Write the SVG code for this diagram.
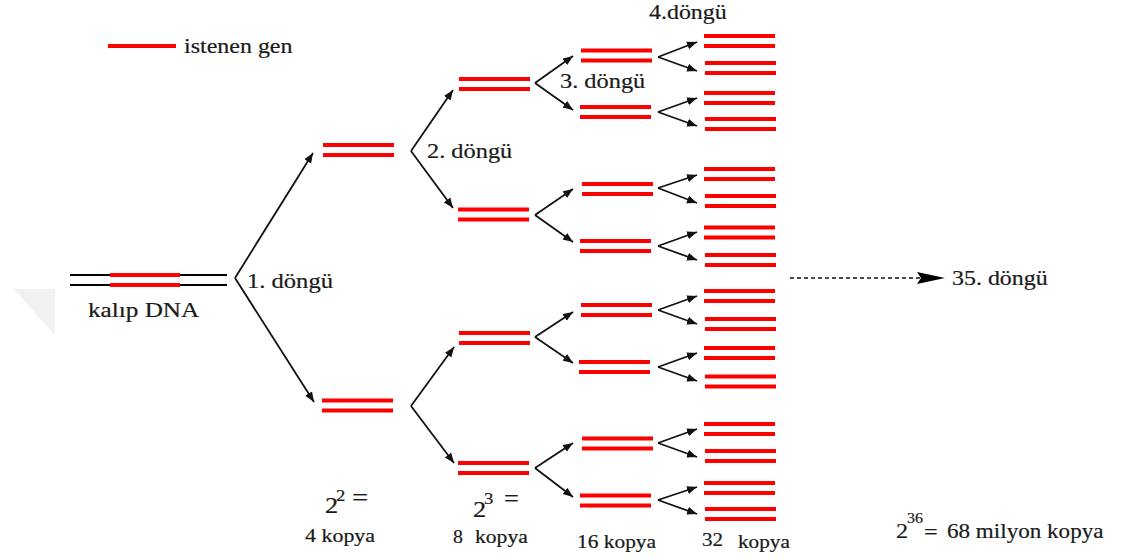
<svg xmlns="http://www.w3.org/2000/svg" width="1129" height="560" viewBox="0 0 1129 560">
<style>
.g{stroke:#ff0000;stroke-width:4;fill:none}
.dna{stroke:#000;stroke-width:2;fill:none}
.ar{stroke:#111;stroke-width:1.8;fill:none;marker-end:url(#ah)}
.tx{stroke:#1a1a1a;stroke-width:0.2}
</style>
<defs>
<marker id="ah" markerUnits="userSpaceOnUse" markerWidth="11" markerHeight="9" refX="10" refY="4.5" orient="auto">
<path d="M0,0.5 L10,4.5 L0,8.5 z" fill="#111"/>
</marker>
<g id="pr"><line class="g" x1="0" y1="-5" x2="71" y2="-5"/><line class="g" x1="0" y1="5" x2="71" y2="5"/></g>
</defs>
<rect width="1129" height="560" fill="#fff"/>
<polygon points="14,289 55,289 55,336" fill="#f2f2f2"/>

<g id="legend" font-family="Liberation Serif" fill="#1a1a1a">
<line class="g" x1="108" y1="46" x2="176" y2="46"/>
<text class="tx" transform="translate(184,53) scale(1.09,1)" font-size="22">istenen gen</text>
</g>

<g id="template" font-family="Liberation Serif" fill="#1a1a1a">
<line class="dna" x1="70" y1="275" x2="227" y2="275"/>
<line class="dna" x1="70" y1="285" x2="227" y2="285"/>
<line class="g" x1="110" y1="275" x2="180" y2="275"/>
<line class="g" x1="110" y1="285" x2="180" y2="285"/>
<text class="tx" transform="translate(88,317) scale(1.2,1)" font-size="21">kalıp DNA</text>
</g>

<g id="gen1">
<use href="#pr" x="323" y="150"/>
<use href="#pr" x="322" y="405.5"/>
</g>
<g id="gen2">
<use href="#pr" x="459" y="84"/>
<use href="#pr" x="458" y="214.5"/>
<use href="#pr" x="459" y="338"/>
<use href="#pr" x="458" y="468"/>
</g>
<g id="gen3">
<use href="#pr" x="581" y="55.5"/>
<use href="#pr" x="580" y="112"/>
<use href="#pr" x="582" y="189"/>
<use href="#pr" x="580" y="246"/>
<use href="#pr" x="581" y="310"/>
<use href="#pr" x="579" y="367"/>
<use href="#pr" x="582" y="443.5"/>
<use href="#pr" x="580" y="500.5"/>
</g>
<g id="gen4">
<use href="#pr" x="704" y="41"/>
<use href="#pr" x="705" y="68"/>
<use href="#pr" x="704" y="98"/>
<use href="#pr" x="705" y="124"/>
<use href="#pr" x="704" y="174"/>
<use href="#pr" x="705" y="201"/>
<use href="#pr" x="704" y="232.5"/>
<use href="#pr" x="705" y="260"/>
<use href="#pr" x="704" y="296"/>
<use href="#pr" x="705" y="324"/>
<use href="#pr" x="704" y="353"/>
<use href="#pr" x="705" y="381.5"/>
<use href="#pr" x="704" y="429"/>
<use href="#pr" x="705" y="456"/>
<use href="#pr" x="704" y="488"/>
<use href="#pr" x="705" y="514"/>
</g>

<g id="connectors">
<path class="ar" d="M235,278 L313,153"/>
<path class="ar" d="M235,278 L314,402"/>
<path class="ar" d="M411,151 L453,90"/>
<path class="ar" d="M411,151 L453,208"/>
<path class="ar" d="M411,406 L454,347"/>
<path class="ar" d="M411,406 L454,463"/>
<path class="ar" d="M535,83 L573,56"/>
<path class="ar" d="M535,83 L573,110"/>
<path class="ar" d="M535,215 L573,189"/>
<path class="ar" d="M535,215 L573,242"/>
<path class="ar" d="M535,337 L573,312"/>
<path class="ar" d="M535,337 L573,363"/>
<path class="ar" d="M535,468 L573,443"/>
<path class="ar" d="M535,468 L573,497"/>
<path class="ar" d="M658,57 L697,42"/>
<path class="ar" d="M658,57 L697,71"/>
<path class="ar" d="M658,112 L697,98"/>
<path class="ar" d="M658,112 L697,126"/>
<path class="ar" d="M658,188 L697,175"/>
<path class="ar" d="M658,188 L697,203"/>
<path class="ar" d="M658,246 L697,232"/>
<path class="ar" d="M658,246 L697,260"/>
<path class="ar" d="M658,310 L697,296"/>
<path class="ar" d="M658,310 L697,324"/>
<path class="ar" d="M658,367 L697,353"/>
<path class="ar" d="M658,367 L697,381"/>
<path class="ar" d="M658,443 L697,429"/>
<path class="ar" d="M658,443 L697,457"/>
<path class="ar" d="M658,500 L697,487"/>
<path class="ar" d="M658,500 L697,514"/>
<line x1="790" y1="278" x2="920" y2="278" stroke="#111" stroke-width="1.5" stroke-dasharray="4,3"/>
<path d="M917,272 L945,278 L917,284 L921,278 z" fill="#000"/>
</g>

<g id="labels" font-family="Liberation Serif" fill="#1a1a1a" class="tx">
<text transform="translate(247,288) scale(1.17,1)" font-size="21">1. döngü</text>
<text transform="translate(427,158) scale(1.16,1)" font-size="21">2. döngü</text>
<text transform="translate(560,88) scale(1.16,1)" font-size="21">3. döngü</text>
<text transform="translate(649,19) scale(1.14,1)" font-size="21">4.döngü</text>
<text transform="translate(952,285) scale(1.14,1)" font-size="21">35. döngü</text>

<text transform="translate(325,513) scale(1.1,1)" font-size="24">2</text>
<text transform="translate(336,501) scale(1.1,1)" font-size="17">2</text>
<text transform="translate(352,505) scale(1.2,1)" font-size="24">=</text>
<text transform="translate(305,542) scale(1.22,1)" font-size="18">4 kopya</text>

<text transform="translate(473,517) scale(1.1,1)" font-size="24">2</text>
<text transform="translate(484,504) scale(1.1,1)" font-size="17">3</text>
<text transform="translate(504,506) scale(1.1,1)" font-size="24">=</text>
<text transform="translate(453,543) scale(1.1,1)" font-size="18">8</text>
<text transform="translate(475,543) scale(1.2,1)" font-size="18">kopya</text>

<text transform="translate(577,548) scale(1.19,1)" font-size="18">16 kopya</text>
<text transform="translate(702,546) scale(1.17,1)" font-size="18">32</text>
<text transform="translate(738,548) scale(1.18,1)" font-size="18">kopya</text>

<text transform="translate(896,538) scale(1.1,1)" font-size="22">2</text>
<text transform="translate(907,523) scale(1.07,1)" font-size="15">36</text>
<text transform="translate(924,539) scale(1.1,1)" font-size="22">=</text>
<text transform="translate(947,538) scale(1.1,1)" font-size="21">68 milyon kopya</text>
</g>
</svg>
